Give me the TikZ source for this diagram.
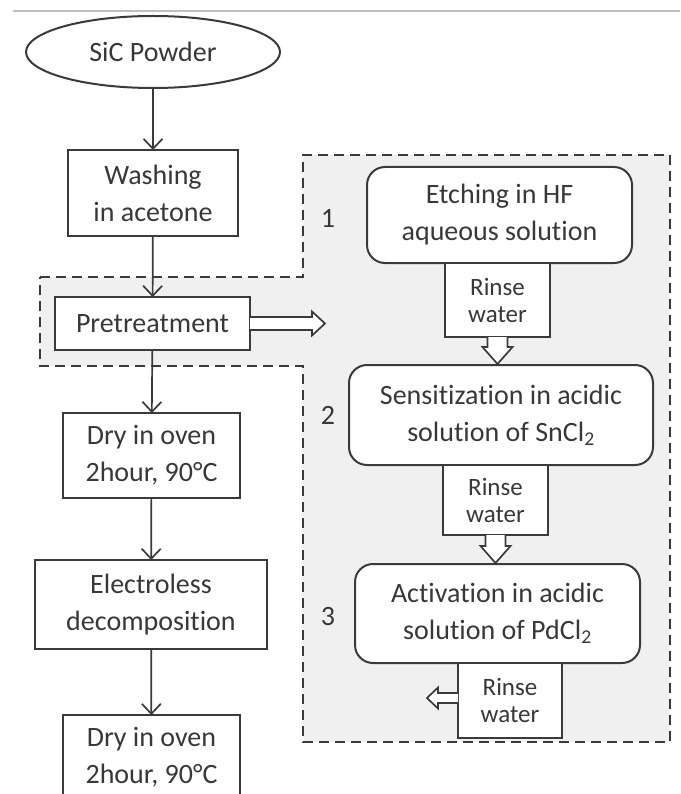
\documentclass[tikz,border=0pt]{standalone}
\usepackage{fontspec}
\setmainfont{Carlito}[Ligatures={NoCommon},RawFeature={-liga;-clig;-calt}]
\usetikzlibrary{arrows.meta,calc,shapes.geometric}
\definecolor{ln}{HTML}{3A3A3A}
\definecolor{txt}{HTML}{383838}
\definecolor{shade}{HTML}{F0F0F0}
\newcommand\myti{t\kern0pt i}
\begin{document}
\begin{tikzpicture}[x=1pt,y=-1pt,
 every node/.style={text=txt, inner sep=0pt, outer sep=0pt},
 box/.style={draw=ln, line width=2pt, fill=white, align=center, font=\fontsize{28}{37}\selectfont},
 rbox/.style={box, rounded corners=18pt},
 rinse/.style={draw=ln, line width=2pt, fill=white, align=center, font=\fontsize{25}{27}\selectfont},
 flow/.style={draw=ln, line width=1.7pt, -{Straight Barb[length=10pt,width=19pt,line width=1.7pt]}},
 hollow/.style={draw=ln, line width=1.7pt, fill=white, line join=miter},
 zone/.style={draw=ln, line width=2pt, dash pattern=on 10pt off 6pt, fill=shade},
 num/.style={font=\fontsize{28}{30}\selectfont}]
\path[use as bounding box, clip] (0,0) rectangle (680,794);
\fill[white] (0,0) rectangle (680,794);
\draw[black!25, line width=2pt] (13,11) -- (680,11);

% shaded zone
\path[zone] (40,277) -- (303,277) -- (303,155) -- (670,155) -- (670,742)
  -- (303,742) -- (303,366) -- (40,366) -- cycle;

% left column
\node[draw=ln, line width=2pt, fill=white, ellipse, minimum width=254pt, minimum height=72pt,
      font=\fontsize{28}{37}\selectfont] (ell) at (153,52) {SiC Powder};
\node[box, minimum width=170pt, minimum height=86pt] (wash) at (153,193) {Washing\\in acetone};
\node[box, minimum width=195pt, minimum height=53pt] (pre) at (152.5,323.5) {Pretreatment};
\node[box, minimum width=177pt, minimum height=85pt] (dry1) at (151.5,455.5) {Dry in oven\\2hour, 90°C};
\node[box, minimum width=232pt, minimum height=89pt] (elec) at (151,604.5) {Electroless\\decomposi\myti on};
\node[box, minimum width=177pt, minimum height=85pt] (dry2) at (151.5,757.5) {Dry in oven\\2hour, 90°C};

\draw[flow] (ell) -- (wash);
\draw[flow] (wash) -- (pre);
\draw[flow] (pre) -- (dry1);
\draw[flow] (dry1) -- (elec);
\draw[flow] (elec) -- (dry2);

% right column
\node[rbox, minimum width=265pt, minimum height=96pt] (b1) at (499.5,215) {Etching in HF\\aqueous solu\myti on};
\node[rinse, minimum width=105pt, minimum height=74pt] (r1) at (497.5,300) {Rinse\\water};
\node[rbox, minimum width=304pt, minimum height=100pt] (b2) at (501,415) {Sensi\myti za\myti on in acidic\\solu\myti on of SnCl\textsubscript{2}};
\node[rinse, minimum width=105pt, minimum height=70pt] (r2) at (495.5,500) {Rinse\\water};
\node[rbox, minimum width=285pt, minimum height=99pt] (b3) at (497.5,613.5) {Ac\myti va\myti on in acidic\\solu\myti on of PdCl\textsubscript{2}};
\node[rinse, minimum width=104pt, minimum height=75pt] (r3) at (510,700.5) {Rinse\\water};

\node[num] (n1) at (328,218) {1};
\node[num] (n2) at (328,415) {2};
\node[num] (n3) at (328,617) {3};

% hollow arrows
\coordinate (pretip) at (325,323.5);
\draw[hollow] ($(pre.east)+(0,-6.5)$) -- ($(pretip)+(-13,-6.5)$) -- ($(pretip)+(-13,-12)$)
  -- (pretip) -- ($(pretip)+(-13,12)$) -- ($(pretip)+(-13,6.5)$) -- ($(pre.east)+(0,6.5)$);

\coordinate (t1) at ($(r1.south |- b2.north)+(0,-1)$);
\draw[hollow] ($(r1.south)+(-10,0)$) -- ++(0,10) -- ++(-5,0) -- (t1)
  -- ($(r1.south)+(15,10)$) -- ++(-5,0) -- ++(0,-10);

\coordinate (t2) at ($(r2.south |- b3.north)+(0,-1)$);
\draw[hollow] ($(r2.south)+(-10,0)$) -- ++(0,11) -- ++(-5,0) -- (t2)
  -- ($(r2.south)+(15,11)$) -- ++(-5,0) -- ++(0,-11);

\coordinate (r3tip) at (427,698);
\draw[hollow] ($(r3.west |- r3tip)+(0,-5)$) -- ++(-20,0) -- ++(0,-5.5) -- (r3tip)
  -- ($(r3.west |- r3tip)+(-20,10.5)$) -- ++(0,-5.5) -- ++(20,0);
\end{tikzpicture}
\end{document}
